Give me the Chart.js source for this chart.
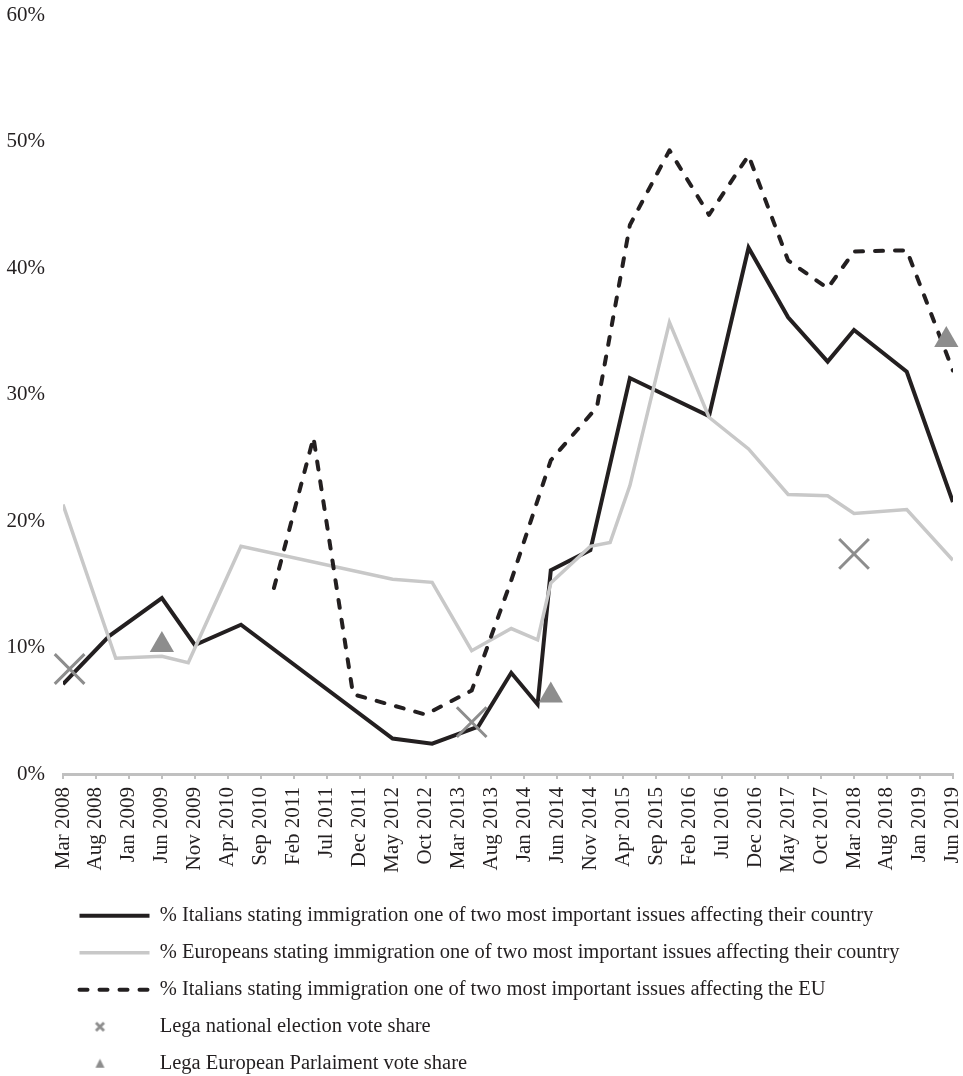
<!DOCTYPE html>
<html>
<head>
<meta charset="utf-8">
<script src="https://cdn.jsdelivr.net/npm/chart.js@4.4.1/dist/chart.umd.min.js"></script>
<style>
  html, body { margin: 0; padding: 0; background: #fff; }
</style>
</head>
<body>
<canvas id="chart" width="963" height="1076"></canvas>
<script>
// x axis labels, one every five months from Mar 2008
const tickLabels = ['Mar 2008', 'Aug 2008', 'Jan 2009', 'Jun 2009', 'Nov 2009', 'Apr 2010', 'Sep 2010',
  'Feb 2011', 'Jul 2011', 'Dec 2011', 'May 2012', 'Oct 2012', 'Mar 2013', 'Aug 2013', 'Jan 2014',
  'Jun 2014', 'Nov 2014', 'Apr 2015', 'Sep 2015', 'Feb 2016', 'Jul 2016', 'Dec 2016', 'May 2017',
  'Oct 2017', 'Mar 2018', 'Aug 2018', 'Jan 2019', 'Jun 2019'];

// % Italians, immigration among two most important issues facing their country
const italyCountryDates = ['2008-03', '2008-10', '2009-06', '2009-11', '2010-06', '2012-05', '2012-11',
  '2013-06', '2013-11', '2014-03', '2014-05', '2014-11', '2015-05', '2016-05', '2016-11', '2017-05',
  '2017-11', '2018-03', '2018-11', '2019-06'];
const italyCountryValues = [7.1, 10.9, 13.9, 10.2, 11.8, 2.8, 2.4, 3.75, 8.0, 5.5, 16.1, 17.7, 31.3,
  28.3, 41.6, 36.1, 32.6, 35.1, 31.8, 21.5];

// % Europeans, same question
const europeDates = ['2008-03', '2008-11', '2009-06', '2009-10', '2010-06', '2012-05', '2012-11', '2013-05',
  '2013-11', '2014-03', '2014-05', '2014-11', '2015-02', '2015-05', '2015-11', '2016-05', '2016-11',
  '2017-05', '2017-11', '2018-03', '2018-11', '2019-06'];
const europeValues = [21.3, 9.15, 9.3, 8.8, 18.0, 15.4, 15.15, 9.75, 11.5, 10.6, 15.1, 18.0, 18.3, 22.8,
  35.7, 28.2, 25.7, 22.1, 22.0, 20.6, 20.9, 16.9];

// % Italians, immigration among two most important issues facing the EU
const italyEuDates = ['2010-11', '2011-05', '2011-11', '2012-10', '2013-05', '2013-11', '2014-05', '2014-12',
  '2015-05', '2015-11', '2016-05', '2016-11', '2017-05', '2017-11', '2018-03', '2018-11', '2019-06'];
const italyEuValues = [14.7, 26.6, 6.3, 4.7, 6.6, 15.3, 24.8, 29.0, 43.4, 49.3, 44.2, 48.9, 40.6, 38.4,
  41.3, 41.4, 31.9];

// Lega vote shares
const nationalDates = ['2008-04', '2013-05', '2018-03'];
const nationalValues = [8.3, 4.1, 17.4];
const europeanDates = ['2009-06', '2014-05', '2019-05'];
const europeanValues = [10.2, 6.2, 34.3];

const seriesNames = [
  '% Italians stating immigration one of two most important issues affecting their country',
  '% Europeans stating immigration one of two most important issues affecting their country',
  '% Italians stating immigration one of two most important issues affecting the EU',
  'Lega national election vote share',
  'Lega European Parlaiment vote share'
];

const black = '#231f20';
const lightGrey = '#c8c8c8';
const markerGrey = '#8d8d8d';

// months since Mar 2008
function monthIndex(d) {
  const [y, m] = d.split('-').map(Number);
  return (y - 2008) * 12 + (m - 3);
}
function toPoints(dates, values) {
  return dates.map((d, i) => ({ x: monthIndex(d), y: values[i] }));
}

// small legend glyphs for the two marker series
function glyph(draw) {
  const c = document.createElement('canvas');
  c.width = 70;
  c.height = 20;
  draw(c.getContext('2d'));
  return c;
}
const crossGlyph = glyph(g => {
  g.strokeStyle = markerGrey;
  g.lineWidth = 2.8;
  g.beginPath();
  g.moveTo(16.5, 6); g.lineTo(24.5, 14);
  g.moveTo(24.5, 6); g.lineTo(16.5, 14);
  g.stroke();
});
const triangleGlyph = glyph(g => {
  g.fillStyle = markerGrey;
  g.beginPath();
  g.moveTo(20.5, 5); g.lineTo(25, 14); g.lineTo(16, 14);
  g.closePath();
  g.fill();
});

Chart.defaults.font.family = '"Liberation Serif", "Times New Roman", serif';
Chart.defaults.color = black;

new Chart(document.getElementById('chart'), {
  type: 'line',
  data: {
    datasets: [
      {
        label: seriesNames[0],
        data: toPoints(italyCountryDates, italyCountryValues),
        borderColor: black,
        backgroundColor: black,
        borderWidth: 4,
        borderJoinStyle: 'miter',
        pointRadius: 0,
        order: 5
      },
      {
        label: seriesNames[1],
        data: toPoints(europeDates, europeValues),
        borderColor: lightGrey,
        backgroundColor: lightGrey,
        borderWidth: 3.5,
        borderJoinStyle: 'miter',
        pointRadius: 0,
        order: 4
      },
      {
        label: seriesNames[2],
        data: toPoints(italyEuDates, italyEuValues),
        borderColor: black,
        backgroundColor: black,
        borderWidth: 4,
        borderDash: [8, 12],
        borderCapStyle: 'round',
        borderJoinStyle: 'round',
        pointRadius: 0,
        order: 3
      },
      {
        label: seriesNames[3],
        data: toPoints(nationalDates, nationalValues),
        showLine: false,
        pointStyle: 'crossRot',
        pointRadius: 21,
        pointBorderWidth: 3,
        borderColor: markerGrey,
        backgroundColor: markerGrey,
        clip: false,
        order: 2
      },
      {
        label: seriesNames[4],
        data: toPoints(europeanDates, europeanValues),
        showLine: false,
        pointStyle: 'triangle',
        pointRadius: 14,
        pointBorderWidth: 0,
        borderColor: markerGrey,
        backgroundColor: markerGrey,
        clip: false,
        order: 1
      }
    ]
  },
  options: {
    responsive: false,
    animation: false,
    devicePixelRatio: 1,
    layout: { autoPadding: false, padding: { top: 15, right: 0, bottom: -8, left: 0 } },
    scales: {
      x: {
        type: 'linear',
        min: 0,
        max: 135,
        afterFit: (scale) => { scale.height = 115; },
        grid: { drawOnChartArea: false, drawTicks: true, tickLength: 5, color: '#c0c0c0', lineWidth: 2 },
        border: { display: true, color: '#c0c0c0', width: 3 },
        ticks: {
          stepSize: 5,
          autoSkip: false,
          maxRotation: 90,
          minRotation: 90,
          padding: 8,
          // small line height only trims the edge padding the axis asks for
          font: { size: 21, lineHeight: 0.1 },
          callback: (v) => tickLabels[v / 5]
        }
      },
      y: {
        min: 0,
        max: 60,
        afterFit: (scale) => { scale.width = 63; },
        grid: { display: false, drawTicks: true, tickLength: 15 },
        border: { display: false },
        ticks: {
          stepSize: 10,
          padding: 3,
          font: { size: 21, lineHeight: 1 },
          callback: (v) => v + '%'
        }
      }
    },
    plugins: {
      tooltip: { enabled: false },
      legend: {
        position: 'bottom',
        align: 'start',
        fullSize: false,
        labels: {
          usePointStyle: true,
          pointStyleWidth: 70,
          boxHeight: 12,
          padding: 16.5,
          color: black,
          font: { size: 20.5 },
          generateLabels: (chart) => {
            const items = Chart.defaults.plugins.legend.labels.generateLabels(chart);
            items.sort((a, b) => a.datasetIndex - b.datasetIndex);
            return items.map(item => {
              const ds = chart.data.datasets[item.datasetIndex];
              if (item.datasetIndex === 3) {
                item.pointStyle = crossGlyph;
                item.text += '\u2003'.repeat(10);
              } else if (item.datasetIndex === 4) {
                item.pointStyle = triangleGlyph;
                item.text += '\u2003'.repeat(10);
              } else {
                item.pointStyle = 'line';
                item.strokeStyle = ds.borderColor;
                item.lineWidth = ds.borderWidth;
                item.lineDash = ds.borderDash || [];
                item.lineCap = ds.borderCapStyle || 'butt';
              }
              return item;
            });
          }
        }
      }
    }
  }
});
</script>
</body>
</html>
